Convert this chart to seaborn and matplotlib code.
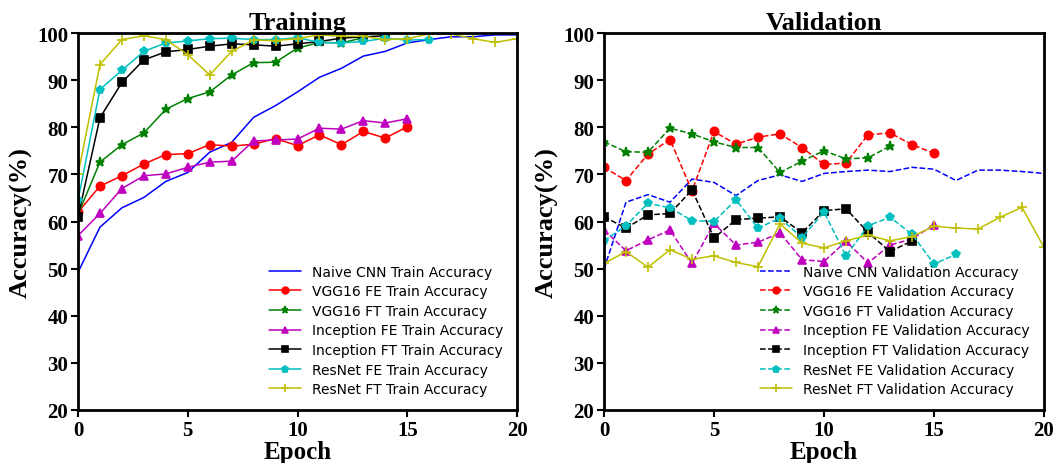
import numpy as np
import pandas as pd
import matplotlib
matplotlib.use("Agg")
import matplotlib.pyplot as plt
import seaborn as sns

# ---------------- data ----------------
naive_train = [49.2, 58.8, 62.9, 65.1, 68.5, 70.4, 74.7, 76.8, 82.1, 84.6, 87.5,
               90.6, 92.5, 95.1, 96.1, 97.9, 98.6, 99.2, 99.2, 99.6, 99.6]
vgg_fe_train = [62.0, 67.5, 69.7, 72.2, 74.2, 74.4, 76.3, 76.0, 76.4, 77.6, 76.1,
                78.4, 76.3, 79.1, 77.7, 80.1]
vgg_ft_train = [61.5, 72.6, 76.3, 78.8, 83.8, 86.1, 87.5, 91.1, 93.7, 93.8, 96.8,
                98.0, 97.9, 99.0]
inc_fe_train = [57.0, 61.7, 67.0, 69.7, 70.1, 71.5, 72.6, 72.8, 77.1, 77.3, 77.5,
                79.8, 79.6, 81.4, 80.9, 81.8]
inc_ft_train = [61.0, 82.0, 89.5, 94.3, 96.0, 96.5, 97.2, 97.7, 97.5, 97.2, 97.7,
                98.2, 98.9, 99.2, 99.4]
res_fe_train = [64.5, 88.0, 92.1, 96.1, 97.9, 98.3, 98.8, 98.9, 98.6, 98.6, 99.0,
                98.0, 97.9, 98.2, 98.9, 98.5, 98.6]
res_ft_train = [70.0, 93.3, 98.6, 99.4, 98.6, 95.4, 91.1, 96.1, 98.5, 98.4, 98.8,
                99.6, 99.3, 99.3, 98.6, 98.8, 99.8, 99.8, 98.8, 98.0, 98.8]

naive_val = [49.9, 64.1, 65.7, 64.1, 69.0, 68.3, 65.5, 68.7, 69.9, 68.5, 70.2,
             70.6, 70.9, 70.6, 71.5, 71.1, 68.7, 70.9, 70.9, 70.6, 70.2]
vgg_fe_val = [71.5, 68.7, 74.3, 77.4, 66.5, 79.1, 76.4, 77.9, 78.6, 75.7, 72.1,
              72.4, 78.4, 78.8, 76.3, 74.5]
vgg_ft_val = [76.9, 74.8, 74.7, 79.8, 78.6, 76.9, 75.7, 75.7, 70.4, 72.8, 75.0,
              73.3, 73.5, 76.0]
inc_fe_val = [58.2, 53.8, 56.1, 58.2, 51.1, 59.6, 55.0, 55.6, 57.6, 51.9, 51.5,
              55.8, 51.2, 55.0, 56.3, 59.3]
inc_ft_val = [61.0, 58.6, 61.4, 61.7, 66.7, 56.5, 60.4, 60.7, 61.0, 57.6, 62.3,
              62.7, 57.7, 53.6, 55.9]
res_fe_val = [55.9, 59.1, 63.9, 62.9, 60.2, 60.0, 64.6, 58.6, 60.7, 56.6, 62.0,
              52.7, 59.1, 60.9, 57.3, 51.0, 53.0]
res_ft_val = [51.1, 53.6, 50.3, 54.0, 52.0, 52.7, 51.3, 50.4, 59.5, 55.4, 54.4,
              55.9, 57.1, 55.9, 56.8, 59.0, 58.6, 58.4, 60.9, 63.0, 54.5]

models = ["Naive CNN", "VGG16 FE", "VGG16 FT", "Inception FE", "Inception FT",
          "ResNet FE", "ResNet FT"]
train_series = [naive_train, vgg_fe_train, vgg_ft_train, inc_fe_train,
                inc_ft_train, res_fe_train, res_ft_train]
val_series = [naive_val, vgg_fe_val, vgg_ft_val, inc_fe_val, inc_ft_val,
              res_fe_val, res_ft_val]

x_ticks = [0, 5, 10, 15, 20]
y_ticks = [20, 30, 40, 50, 60, 70, 80, 90, 100]

# ---------------- style ----------------
colors = ["b", "r", "g", "m", "k", "c", "y"]
markers = [None, "o", "*", "^", "s", "p", "+"]
msizes = [0, 6, 6.5, 6, 6, 6, 7]
val_ls = ["--", "--", "--", "--", "--", "--", "-"]

sns.set_style("white")
plt.rcParams["font.family"] = ["DejaVu Sans"]
plt.rcParams["text.color"] = "black"
plt.rcParams["axes.labelcolor"] = "black"
plt.rcParams["xtick.color"] = "black"
plt.rcParams["ytick.color"] = "black"

fig = plt.figure(figsize=(10.57, 4.64), dpi=100)
ax1 = fig.add_axes([78 / 1057, 53 / 464, 439 / 1057, 377 / 464])
ax2 = fig.add_axes([604 / 1057, 53 / 464, 440 / 1057, 377 / 464])

serif = {"family": "Liberation Serif", "weight": "bold", "color": "black"}

def draw(ax, series, suffix, linestyles, title):
    for name, vals, c, m, ms, ls in zip(models, series, colors, markers, msizes,
                                        linestyles):
        df = pd.DataFrame({"Epoch": np.arange(len(vals)), "Acc": vals})
        kw = dict(marker=m, markersize=ms, markeredgewidth=1.2,
                  markeredgecolor=c, markerfacecolor=c) if m else {}
        sns.lineplot(data=df, x="Epoch", y="Acc", ax=ax, color=c, linestyle=ls,
                     linewidth=1.1, label=f"{name} {suffix} Accuracy", **kw)
    ax.set_xlim(0, 20)
    ax.set_ylim(20, 100)
    ax.set_xticks(x_ticks)
    ax.set_yticks(y_ticks)
    ax.set_xlabel("Epoch", fontdict=dict(serif, size=18), labelpad=0)
    ax.set_ylabel("Accuracy(%)", fontdict=dict(serif, size=19), labelpad=3)
    ax.set_title(title, fontdict=dict(serif, size=19), pad=3)
    for lab in ax.get_xticklabels() + ax.get_yticklabels():
        lab.set_fontfamily("Liberation Serif")
        lab.set_fontweight("bold")
        lab.set_fontsize(15)
    ax.tick_params(direction="out", length=5, width=1.5, pad=2,
                   bottom=True, left=True, colors="black")
    for sp in ax.spines.values():
        sp.set_visible(True)
        sp.set_linewidth(2)
        sp.set_color("black")
    ax.legend(loc="lower right", frameon=False, fontsize=10, markerscale=0.8,
              handlelength=2.3, labelspacing=0.4, borderaxespad=0.6)

draw(ax1, train_series, "Train", ["-"] * 7, "Training")
draw(ax2, val_series, "Validation", val_ls, "Validation")

fig.savefig("out.png", dpi=100)
